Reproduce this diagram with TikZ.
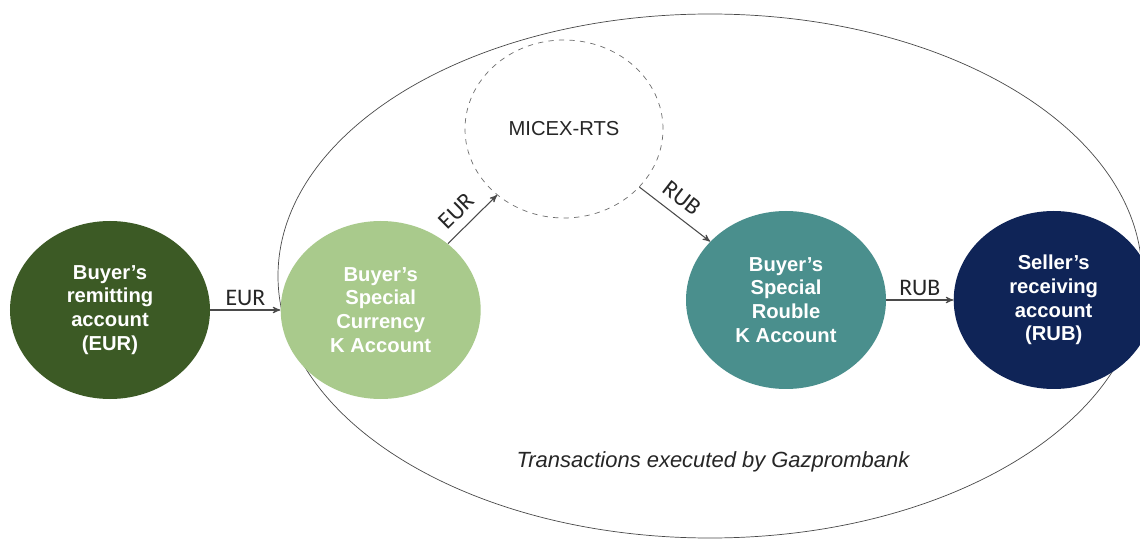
\documentclass[tikz,border=0pt]{standalone}
\usepackage{fontspec}
\setmainfont{Liberation Sans}
\newfontfamily\labelfont{Carlito}
\usetikzlibrary{arrows,positioning,shapes.geometric}
\definecolor{remitgreen}{HTML}{3C5A25}
\definecolor{specialgreen}{HTML}{A9CA8C}
\definecolor{roubleteal}{HTML}{4A8F8D}
\definecolor{sellernavy}{HTML}{0F2457}
\definecolor{linegray}{HTML}{4A4A4A}
\tikzset{
    %Define standard arrow tip
    >=stealth',
    %Define style for account circles
    acct/.style={
           ellipse,
           minimum width=4cm,
           minimum height=3.56cm,
           inner sep=0pt,
           text=white,
           align=center,
           font=\fontsize{11.5}{13.5}\selectfont\bfseries},
    %Define style for the exchange
    exch/.style={
           ellipse,
           draw=linegray!80,
           dashed,
           minimum width=3.96cm,
           minimum height=3.56cm,
           font=\fontsize{11.5}{13.5}\selectfont,
           text=black!85},
    % Define arrow style
    pay/.style={
           ->,
           draw=linegray,
           semithick},
    cur/.style={
           font=\labelfont\fontsize{13.5}{15}\selectfont,
           text=black!85,
           inner sep=2pt},
}
\begin{document}
\begin{tikzpicture}
 \useasboundingbox[fill=white] (0,0) rectangle (22.8,10.82);
 %bank
    \node[ellipse, draw=linegray, minimum width=17.28cm, minimum height=10.48cm] (gpb) at (14.2,5.3) {};
    \node[font=\fontsize{12.5}{14}\selectfont\itshape, text=black!85] (gpbtext) at (14.26,1.58) {Transactions executed by Gazprombank};
 %nodes
    \node[acct, fill=remitgreen] (remit) at (2.2,4.62) {Buyer's\\remitting\\account\\(EUR)};
    \node[acct, fill=specialgreen, right=1.4cm of remit] (cspecial) {Buyer's\\Special\\Currency\\K Account};
    \node[exch] (micex) at (11.28,8.24) {MICEX-RTS};
    \node[acct, fill=roubleteal] (rspecial) at (15.72,4.82) {Buyer's\\Special\\Rouble\\K Account};
    \node[acct, fill=sellernavy, right=1.34cm of rspecial] (seller) {Seller's\\receiving\\account\\(RUB)};
 %edges
    \draw[pay] (remit) -- node[cur, above] {EUR} (cspecial);
    \draw[pay] (cspecial) -- node[cur, above=3pt, sloped, pos=0.42] {EUR} (micex);
    \draw[pay] (micex) -- node[cur, above=3pt, sloped, pos=0.45] {RUB} (rspecial);
    \draw[pay] (rspecial) -- node[cur, above] {RUB} (seller);
\end{tikzpicture}
\end{document}
